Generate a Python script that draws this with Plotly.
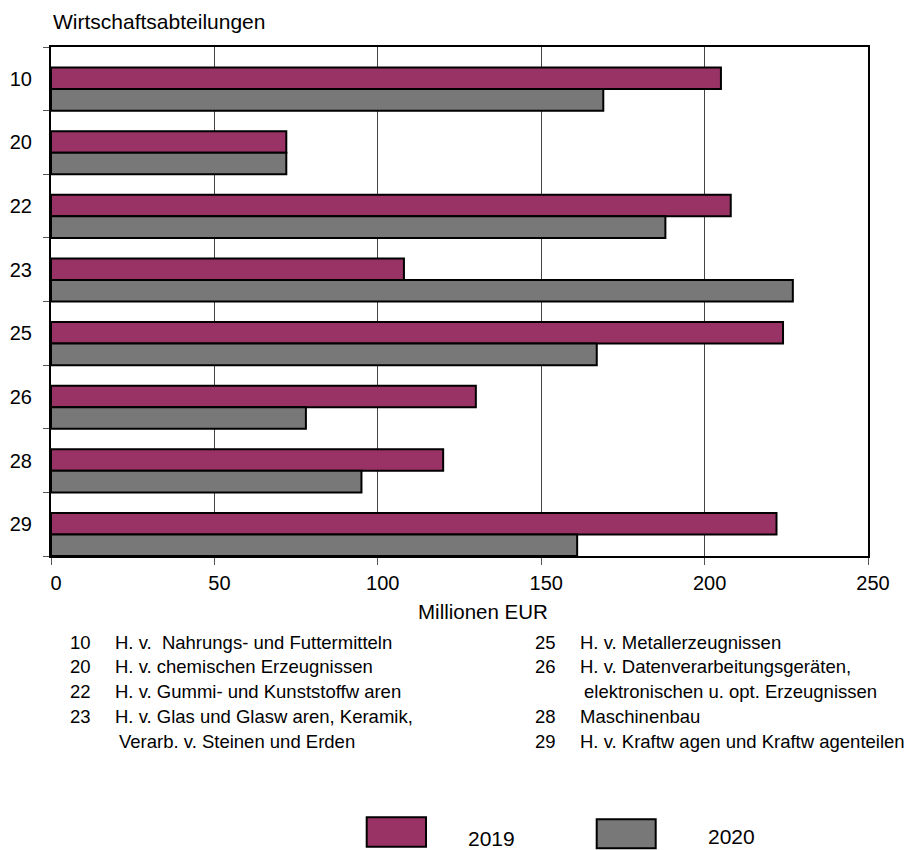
import plotly.graph_objects as go

# ---- data ----
categories = ["10", "20", "22", "23", "25", "26", "28", "29"]
values_2019 = [205, 72, 208, 108, 224, 130, 120, 222]
values_2020 = [169, 72, 188, 227, 167, 78, 95, 161]
series_names = ["2019", "2020"]
x_ticks = [0, 50, 100, 150, 200, 250]

footnotes_left = [
    ("10", "H. v.  Nahrungs- und Futtermitteln"),
    ("20", "H. v. chemischen Erzeugnissen"),
    ("22", "H. v. Gummi- und Kunststoffw aren"),
    ("23", "H. v. Glas und Glasw aren, Keramik,"),
    ("", " Verarb. v. Steinen und Erden"),
]
footnotes_right = [
    ("25", "H. v. Metallerzeugnissen"),
    ("26", "H. v. Datenverarbeitungsgeräten,"),
    ("", " elektronischen u. opt. Erzeugnissen"),
    ("28", "Maschinenbau"),
    ("29", "H. v. Kraftw agen und Kraftw agenteilen"),
]

# ---- styling ----
COL_2019 = "#993366"
COL_2020 = "#787878"
FONT = "Liberation Sans, Arial, sans-serif"
W, H = 913, 850
L, R, T, B = 51, 868, 47, 556  # plot area in px
FN_SIZE = 18.5


def px_x(px):
    return (px - L) / (R - L)


def px_y(py):
    return (B - py) / (B - T)


pos = list(range(len(categories)))
bw = 0.338

fig = go.Figure()
fig.add_trace(go.Bar(
    x=values_2019, y=pos, orientation="h", name=series_names[0],
    marker=dict(color=COL_2019, line=dict(color="black", width=2)),
    width=bw, offset=-0.176, showlegend=False,
))
fig.add_trace(go.Bar(
    x=values_2020, y=pos, orientation="h", name=series_names[1],
    marker=dict(color=COL_2020, line=dict(color="black", width=2)),
    width=bw, offset=0.162, showlegend=False,
))

fig.update_layout(
    width=W, height=H,
    margin=dict(l=L, r=W - R, t=T, b=H - B, autoexpand=False),
    paper_bgcolor="white", plot_bgcolor="white",
    barmode="overlay",
    font=dict(family=FONT, size=20, color="black"),
    xaxis=dict(
        range=[0, 250], tickvals=x_ticks, ticktext=[str(v) for v in x_ticks],
        showgrid=True, gridcolor="#444444", gridwidth=1,
        showline=True, linecolor="black", linewidth=2, mirror=True,
        ticks="outside", ticklen=7, tickcolor="#555555", tickwidth=1,
        tickfont=dict(size=20), ticklabelstandoff=1, ticklabelshift=5,
        zeroline=False,
    ),
    yaxis=dict(
        range=[len(categories) - 0.5, -0.5],
        tickvals=pos, ticktext=categories,
        ticks="", showgrid=False, zeroline=False,
        showline=True, linecolor="black", linewidth=2, mirror=True,
        tickfont=dict(size=20), ticklabelstandoff=13,
        minor=dict(
            tickvals=[p - 0.5 for p in pos] + [pos[-1] + 0.5],
            ticks="outside", ticklen=6, tickcolor="#555555", tickwidth=1,
            showgrid=False,
        ),
    ),
)

ann = []
# chart title (y-axis category label)
ann.append(dict(text="Wirtschaftsabteilungen", x=px_x(51), y=px_y(21.5),
                xanchor="left", yanchor="middle", font=dict(size=21)))
# x-axis title
ann.append(dict(text="Millionen EUR", x=px_x(483), y=px_y(611.5),
                xanchor="center", yanchor="middle", font=dict(size=20.5)))

# footnotes
line_y_left = [642.5, 666.5, 691, 716, 741]
for (num, txt), yy in zip(footnotes_left, line_y_left):
    if num:
        ann.append(dict(text=num, x=px_x(68), y=px_y(yy), xanchor="left",
                        yanchor="middle", font=dict(size=FN_SIZE)))
        ann.append(dict(text=txt, x=px_x(112.7), y=px_y(yy), xanchor="left",
                        yanchor="middle", font=dict(size=FN_SIZE)))
    else:
        ann.append(dict(text=txt.strip(), x=px_x(117.3), y=px_y(yy), xanchor="left",
                        yanchor="middle", font=dict(size=FN_SIZE)))
line_y_right = [642.5, 666.5, 691, 716, 741]
for (num, txt), yy in zip(footnotes_right, line_y_right):
    if num:
        ann.append(dict(text=num, x=px_x(533.3), y=px_y(yy), xanchor="left",
                        yanchor="middle", font=dict(size=FN_SIZE)))
        ann.append(dict(text=txt, x=px_x(577.7), y=px_y(yy), xanchor="left",
                        yanchor="middle", font=dict(size=FN_SIZE)))
    else:
        ann.append(dict(text=txt.strip(), x=px_x(581.7), y=px_y(yy), xanchor="left",
                        yanchor="middle", font=dict(size=FN_SIZE)))

# legend (custom large swatches)
legend_items = [
    (series_names[0], COL_2019, (366.7, 426, 817.3, 846.7), (466, 838)),
    (series_names[1], COL_2020, (596.7, 655.7, 819.3, 848.3), (705.7, 836)),
]
shapes = []
for name, col, (x0, x1, y0, y1), (tx, ty) in legend_items:
    shapes.append(dict(type="rect", xref="paper", yref="paper",
                       x0=px_x(x0), x1=px_x(x1), y0=px_y(y1), y1=px_y(y0),
                       fillcolor=col, line=dict(color="black", width=2)))
    ann.append(dict(text=name, x=px_x(tx), y=px_y(ty), xanchor="left",
                    yanchor="middle", font=dict(size=21)))

for a in ann:
    a.update(xref="paper", yref="paper", showarrow=False)

fig.update_layout(annotations=ann, shapes=shapes)
fig.write_html(
    "out.html",
    config={"displayModeBar": False},
    post_script="document.body.style.margin='0px';document.body.style.overflow='hidden';",
)
